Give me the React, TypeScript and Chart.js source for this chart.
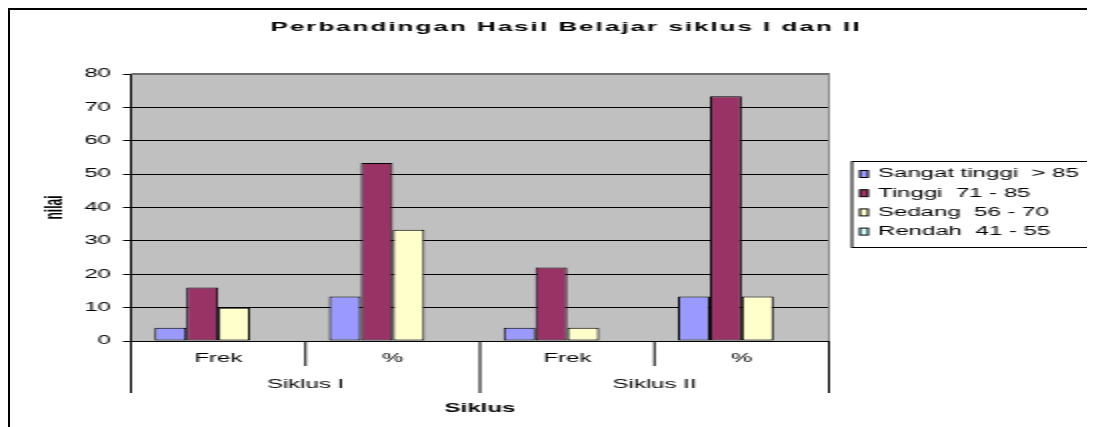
import React, { useEffect, useRef } from 'react';
import { Chart, registerables } from 'chart.js';

Chart.register(...registerables);

const categories = ['Frek', '%', 'Frek', '%'];
const groupLabels = ['Siklus I', 'Siklus II'];
const seriesNames = ['Sangat tinggi  > 85', 'Tinggi  71 - 85', 'Sedang  56 - 70', 'Rendah  41 - 55'];
const sangatTinggi = [4, 13.33, 4, 13.33];
const tinggi = [16, 53.33, 22, 73.33];
const sedang = [10, 33.33, 4, 13.33];
const rendah = [0, 0, 0, 0];
const seriesColors = ['#9999FF', '#993366', '#FFFFCC', '#CCFFFF'];
const yMin = 0;
const yMax = 80;
const yStep = 10;
const chartTitle = 'Perbandingan Hasil Belajar siklus I dan II';
const xTitle = 'Siklus';
const yTitle = 'nilai';

const FONT = '"Liberation Sans", Arial, sans-serif';
const W = 543;
const H = 417;
const SX = 2;

const decor = {
  id: 'decor',
  beforeDraw(chart: any) {
    const { ctx, chartArea: a } = chart;
    ctx.save();
    ctx.fillStyle = '#c0c0c0';
    ctx.fillRect(a.left, a.top, a.right - a.left, a.bottom - a.top);
    ctx.restore();
  },
  afterDraw(chart: any) {
    const { ctx, chartArea: a, scales } = chart;
    const x = scales.x;
    ctx.save();
    // plot area border (top / right)
    ctx.strokeStyle = '#707070';
    ctx.lineWidth = 2;
    ctx.beginPath();
    ctx.moveTo(a.left, a.top);
    ctx.lineTo(a.right + 0.5, a.top);
    ctx.stroke();
    ctx.strokeStyle = '#8a8a8a';
    ctx.lineWidth = 1;
    ctx.beginPath();
    ctx.moveTo(a.right, a.top);
    ctx.lineTo(a.right, a.bottom);
    ctx.stroke();

    // category separators (two tiers)
    const n = categories.length;
    const half = (x.getPixelForValue(1) - x.getPixelForValue(0)) / 2;
    ctx.strokeStyle = '#000';
    ctx.lineWidth = 1;
    for (let i = 0; i <= n; i++) {
      const px = i < n ? x.getPixelForValue(i) - half : x.getPixelForValue(n - 1) + half;
      const long = i % 2 === 0;
      ctx.beginPath();
      ctx.moveTo(px, a.bottom);
      ctx.lineTo(px, a.bottom + (long ? 52 : 25));
      ctx.stroke();
    }

    // group labels
    ctx.fillStyle = '#000';
    ctx.textAlign = 'center';
    ctx.textBaseline = 'middle';
    ctx.font = `12px ${FONT}`;
    groupLabels.forEach((g, gi) => {
      const cx = (x.getPixelForValue(gi * 2) + x.getPixelForValue(gi * 2 + 1)) / 2;
      ctx.fillText(g, cx, a.bottom + 44);
    });

    // title
    ctx.font = `bold 13px ${FONT}`;
    (ctx as any).letterSpacing = '1px';
    ctx.fillText(chartTitle, 278, 17);
    (ctx as any).letterSpacing = '0px';

    // legend
    ctx.strokeStyle = '#000';
    ctx.lineWidth = 1;
    ctx.strokeRect(421, 151.5, 118.5, 86);
    ctx.font = `12px ${FONT}`;
    ctx.textAlign = 'left';
    chart.data.datasets.forEach((ds: any, i: number) => {
      const y = 164 + i * 19.2;
      ctx.fillStyle = ds.backgroundColor;
      ctx.fillRect(425, y - 3.5, 4, 7);
      ctx.strokeStyle = '#000';
      ctx.strokeRect(425, y - 3.5, 4, 7);
      ctx.fillStyle = '#000';
      ctx.fillText(ds.label, 434, y);
    });
    ctx.restore();
  },
};

export default function App() {
  const ref = useRef<HTMLCanvasElement>(null);
  useEffect(() => {
    if (!ref.current) return;
    Chart.defaults.font.family = FONT;
    const values = [sangatTinggi, tinggi, sedang, rendah];
    const chart = new Chart(ref.current, {
      type: 'bar',
      data: {
        labels: categories,
        datasets: values.map((v, i) => ({
          label: seriesNames[i],
          data: v,
          backgroundColor: seriesColors[i],
          borderColor: '#000',
          borderWidth: 1,
          borderSkipped: false,
          categoryPercentage: 0.73,
          barPercentage: 1,
        })),
      },
      options: {
        animation: false,
        responsive: false,
        devicePixelRatio: 1,
        layout: { padding: { top: 64, right: W - 409.5, left: 0, bottom: 0 } },
        plugins: {
          legend: { display: false },
          title: { display: false },
          tooltip: { enabled: false },
        },
        scales: {
          x: {
            type: 'category',
            offset: true,
            grid: { display: false, drawTicks: false },
            border: { display: true, color: '#000', width: 1 },
            ticks: { color: '#000', font: { size: 12 }, padding: 10.8, maxRotation: 0, autoSkip: false },
            title: {
              display: true,
              text: xTitle,
              color: '#000',
              font: { size: 12, weight: 'bold' },
              padding: { top: 0, bottom: 10.8 },
            },
            afterFit: (s: any) => {
              s.height = 86;
            },
          },
          y: {
            min: yMin,
            max: yMax,
            ticks: { stepSize: yStep, color: '#000', font: { size: 12 }, padding: 6 },
            grid: { color: '#000', lineWidth: 1, tickLength: 4, drawTicks: true },
            border: { display: true, color: '#000', width: 1 },
            title: {
              display: true,
              text: yTitle,
              color: '#000',
              font: { size: 12, weight: 'bold' },
              padding: { top: 15.8, bottom: 0 },
            },
            afterFit: (s: any) => {
              s.width = 60.5;
            },
          },
        },
      } as any,
      plugins: [decor],
    });
    return () => chart.destroy();
  }, []);

  return (
    <div
      style={{
        width: 1087,
        height: 419,
        borderTop: '2px solid #000',
        borderLeft: '2px solid #000',
        boxSizing: 'border-box',
        overflow: 'hidden',
        background: '#fff',
      }}
    >
      <canvas
        ref={ref}
        width={W}
        height={H}
        style={{ width: `${W * SX}px`, height: `${H}px`, display: 'block' }}
      />
    </div>
  );
}
